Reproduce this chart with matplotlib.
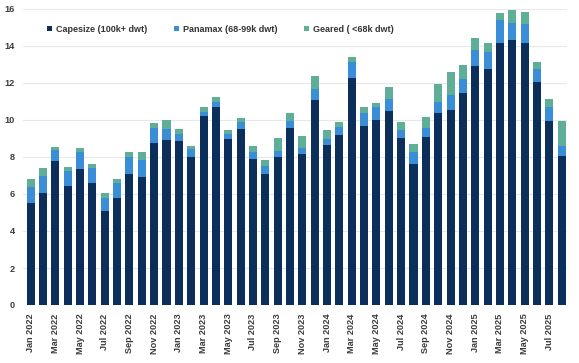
import matplotlib
matplotlib.use("Agg")
import matplotlib.pyplot as plt
import numpy as np

# monthly values, Jan 2022 - Aug 2025
MONTHS = [
    f"{m} {y}"
    for y in (2022, 2023, 2024, 2025)
    for m in ("Jan", "Feb", "Mar", "Apr", "May", "Jun", "Jul", "Aug", "Sep", "Oct", "Nov", "Dec")
][:44]

CAPESIZE = [
    5.50, 6.04, 7.78, 6.41, 7.37, 6.61, 5.08, 5.77, 7.08, 6.92, 8.77, 8.92,
    8.88, 7.98, 10.23, 10.69, 8.96, 9.50, 7.91, 7.06, 7.98, 9.55, 8.14, 11.08,
    8.66, 9.17, 12.25, 9.68, 10.00, 10.47, 9.01, 7.60, 9.10, 10.40, 10.54, 11.44,
    12.92, 12.76, 14.18, 14.32, 14.16, 12.07, 9.96, 8.07,
]
PANAMAX = [
    0.86, 0.95, 0.60, 0.85, 0.90, 0.80, 0.72, 0.81, 0.90, 0.92, 0.80, 0.61,
    0.35, 0.45, 0.22, 0.30, 0.28, 0.41, 0.36, 0.45, 0.34, 0.41, 0.33, 0.60,
    0.29, 0.43, 0.90, 0.72, 0.69, 0.65, 0.45, 0.65, 0.47, 0.57, 0.79, 0.76,
    0.85, 0.93, 1.21, 0.91, 1.03, 0.67, 0.73, 0.52,
]
GEARED = [
    0.43, 0.42, 0.14, 0.20, 0.22, 0.21, 0.27, 0.25, 0.27, 0.41, 0.27, 0.45,
    0.27, 0.15, 0.24, 0.27, 0.22, 0.22, 0.32, 0.35, 0.72, 0.44, 0.65, 0.70,
    0.51, 0.31, 0.27, 0.32, 0.21, 0.65, 0.45, 0.47, 0.57, 0.99, 1.26, 0.79,
    0.64, 0.49, 0.39, 0.70, 0.67, 0.40, 0.45, 1.36,
]

LABELS = ["Capesize (100k+ dwt)", "Panamax (68-99k dwt)", "Geared ( <68k dwt)"]
COLORS = ["#0b2f5a", "#3a8ed8", "#5fae98"]

plt.rcParams.update({
    "font.family": ["Liberation Sans", "DejaVu Sans"],
    "font.size": 7,
})

fig = plt.figure(figsize=(5.79, 3.63), dpi=100)
ax = fig.add_axes([23 / 579, 58 / 363, 544 / 579, 296 / 363])

x = np.arange(len(MONTHS))
cape = np.array(CAPESIZE)
pana = np.array(PANAMAX)
gear = np.array(GEARED)

ax.bar(x, cape, width=0.65, color=COLORS[0], label=LABELS[0], zorder=2)
ax.bar(x, pana, width=0.65, bottom=cape, color=COLORS[1], label=LABELS[1], zorder=2)
ax.bar(x, gear, width=0.65, bottom=cape + pana, color=COLORS[2], label=LABELS[2], zorder=2)

ax.set_xlim(-0.62, 43.43)
ax.set_ylim(0, 16)
ax.set_yticks(np.arange(0, 17, 2))
ax.set_xticks(x[::2])
ax.set_xticklabels(MONTHS[::2], rotation=90)
ax.tick_params(axis="both", length=0, labelsize=6.6)
ax.tick_params(axis="x", pad=6)
ax.tick_params(axis="y", pad=6)
for lbl in ax.get_xticklabels() + ax.get_yticklabels():
    lbl.set_fontweight("bold")
    lbl.set_color("#3c3c3c")

ax.grid(axis="y", color="#e8e8e8", linewidth=0.8, zorder=0)
for side in ("top", "right", "left", "bottom"):
    ax.spines[side].set_visible(False)

ax.legend(
    loc="upper left",
    bbox_to_anchor=(0.029, 0.975),
    ncol=3,
    frameon=False,
    handlelength=0.55,
    handleheight=0.55,
    handletextpad=0.5,
    columnspacing=2.9,
    prop={"size": 6.5, "weight": "bold"},
    labelcolor="#333333",
)

fig.savefig("out.png", dpi=100)
